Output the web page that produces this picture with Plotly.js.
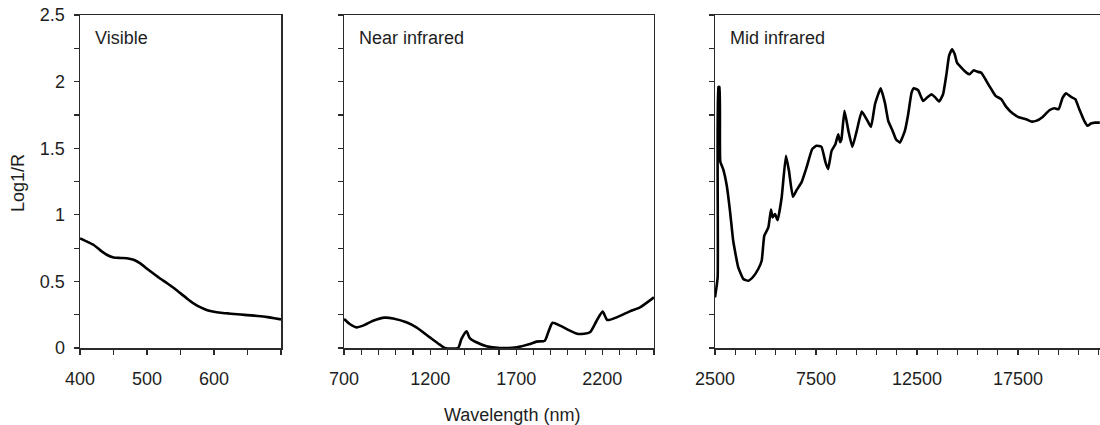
<!DOCTYPE html>
<html>
<head>
<meta charset="utf-8">
<script src="https://cdn.plot.ly/plotly-3.0.1.min.js"></script>
<style>
html, body { margin: 0; padding: 0; overflow: hidden; background: #fff; }
#chart { width: 1120px; height: 425px; }
</style>
</head>
<body>
<div id="chart"></div>
<script>
// ---- Visible region (nm) ----
const visWavelength = [400,410,420,430,440,450,460,470,480,490,500,510,520,530,540,550,560,570,580,590,600,610,620,630,640,650,660,670,680,690,700];
const visLog1R = [0.823,0.80,0.775,0.735,0.70,0.68,0.676,0.674,0.662,0.635,0.595,0.557,0.52,0.486,0.45,0.41,0.37,0.333,0.305,0.284,0.272,0.265,0.26,0.255,0.251,0.247,0.243,0.238,0.232,0.224,0.215];

// ---- Near infrared region (nm) ----
const nirWavelength = [700,733,772,810,869,936,985,1062,1120,1198,1256,1285,1362,1382,1411,1430,1469,1527,1605,1702,1779,1818,1866,1886,1911,1954,2012,2060,2128,2167,2202,2229,2283,2360,2419,2500];
const nirLog1R = [0.218,0.18,0.155,0.168,0.205,0.228,0.222,0.193,0.155,0.08,0.025,0,0,0.068,0.125,0.075,0.043,0.013,0,0.005,0.03,0.048,0.055,0.118,0.19,0.168,0.13,0.105,0.118,0.205,0.273,0.21,0.23,0.275,0.305,0.38];

// ---- Mid infrared region ----
const midWavelength = [2500,2630,2665,2720,2760,2910,3080,3240,3400,3650,3900,4150,4390,4640,4810,4940,5140,5270,5350,5470,5600,5800,6010,6160,6355,6540,6780,7030,7310,7520,7770,7970,8100,8270,8460,8600,8690,8760,8910,9103,9300,9516,9763,10010,10222,10420,10700,10912,11075,11293,11455,11652,11899,12063,12230,12344,12556,12803,13000,13217,13380,13592,13790,13957,14086,14234,14367,14480,14697,14944,15107,15304,15467,15684,15931,16178,16390,16670,16917,17243,17573,17904,18150,18397,18723,19054,19300,19513,19710,19878,20125,20336,20534,20780,20943,21111,21323,21550];
const midLog1R = [0.38,0.53,1.96,1.96,1.40,1.34,1.22,1.03,0.805,0.605,0.518,0.505,0.535,0.593,0.655,0.843,0.905,1.04,0.98,1.005,0.96,1.13,1.443,1.33,1.135,1.185,1.243,1.355,1.493,1.518,1.51,1.393,1.343,1.48,1.53,1.605,1.545,1.568,1.78,1.63,1.51,1.63,1.775,1.717,1.66,1.83,1.95,1.84,1.705,1.63,1.568,1.542,1.63,1.755,1.917,1.95,1.935,1.855,1.88,1.905,1.885,1.85,1.905,2.055,2.193,2.243,2.205,2.143,2.105,2.067,2.055,2.085,2.075,2.067,2.005,1.943,1.893,1.868,1.81,1.76,1.73,1.718,1.70,1.705,1.735,1.785,1.80,1.793,1.88,1.913,1.885,1.868,1.793,1.705,1.668,1.685,1.692,1.692];

// ---- Tick labels ----
const yTickVals = [0, 0.5, 1, 1.5, 2, 2.5];
const yTickText = ['0', '0.5', '1', '1.5', '2', '2.5'];
const visTickVals = [400, 500, 600];
const nirTickVals = [700, 1200, 1700, 2200];
const midTickVals = [2500, 7500, 12500, 17500];
const panelLabels = ['Visible', 'Near infrared', 'Mid infrared'];
const xTitle = 'Wavelength (nm)';
const yTitle = 'Log1/R';

const INK = '#1e1e1e';
const AXC = '#2a2a2a';
const FONT = { family: '"Liberation Sans", Arial, Helvetica, sans-serif', size: 18, color: INK };

function minorTicks(t0, dt) {
  return { tickmode: 'linear', tick0: t0, dtick: dt, ticks: 'outside', ticklen: 5, tickwidth: 1.2, tickcolor: AXC };
}
const axisBase = {
  showgrid: false, zeroline: false, showline: true, linecolor: AXC, linewidth: 1.5,
  ticks: 'outside', ticklen: 5, tickwidth: 1.2, tickcolor: AXC, mirror: true, fixedrange: true
};

const lineStyle = { color: '#000', width: 2.6, shape: 'spline', smoothing: 0.6 };

const traces = [
  { x: visWavelength, y: visLog1R, xaxis: 'x', yaxis: 'y', type: 'scatter', mode: 'lines', line: lineStyle, hoverinfo: 'skip' },
  { x: nirWavelength, y: nirLog1R, xaxis: 'x2', yaxis: 'y2', type: 'scatter', mode: 'lines', line: lineStyle, hoverinfo: 'skip' },
  { x: midWavelength, y: midLog1R, xaxis: 'x3', yaxis: 'y3', type: 'scatter', mode: 'lines', line: Object.assign({}, lineStyle, { smoothing: 0.4 }), hoverinfo: 'skip' }
];

function yAxis(anchor, showLabels) {
  return Object.assign({}, axisBase, {
    anchor: anchor, domain: [0, 1], range: [0, 2.5],
    tickmode: 'array', tickvals: yTickVals, ticktext: yTickText,
    showticklabels: showLabels, ticklabelstandoff: 5, minor: minorTicks(0, 0.25)
  });
}
function xAxis(anchor, domain, range, tickvals, t0, dt) {
  return Object.assign({}, axisBase, {
    anchor: anchor, domain: domain, range: range,
    tickmode: 'array', tickvals: tickvals, ticktext: tickvals.map(String),
    ticklabelstandoff: 9, minor: minorTicks(t0, dt)
  });
}

function panelLabel(i, text) {
  const s = i === 1 ? '' : String(i);
  return {
    text: text, xref: 'x' + s + ' domain', yref: 'y' + s + ' domain', x: 0, y: 1,
    xanchor: 'left', yanchor: 'top', xshift: 13, yshift: -11, showarrow: false,
    font: FONT
  };
}

const layout = {
  width: 1120, height: 425,
  margin: { l: 80, r: 0, t: 15, b: 77 },
  paper_bgcolor: '#fff', plot_bgcolor: '#fff',
  showlegend: false, font: FONT,
  xaxis: xAxis('y', [0, 0.1933], [400, 700], visTickVals, 400, 50),
  yaxis: yAxis('x', true),
  xaxis2: xAxis('y2', [0.2539, 0.5519], [700, 2500], nirTickVals, 700, 100),
  yaxis2: yAxis('x2', false),
  xaxis3: xAxis('y3', [0.6106, 1], [2500, 22550], midTickVals, 2500, 1000),
  yaxis3: yAxis('x3', false),
  annotations: [
    panelLabel(1, panelLabels[0]),
    panelLabel(2, panelLabels[1]),
    panelLabel(3, panelLabels[2]),
    { text: xTitle, xref: 'paper', yref: 'paper', x: 0.4154, y: -0.201, xanchor: 'center', yanchor: 'middle', showarrow: false, font: FONT },
    { text: yTitle, xref: 'paper', yref: 'paper', x: -0.0596, y: 0.4955, xanchor: 'center', yanchor: 'middle', textangle: -90, showarrow: false, font: FONT }
  ]
};

Plotly.newPlot('chart', traces, layout, { displayModeBar: false, staticPlot: true });
</script>
</body>
</html>
